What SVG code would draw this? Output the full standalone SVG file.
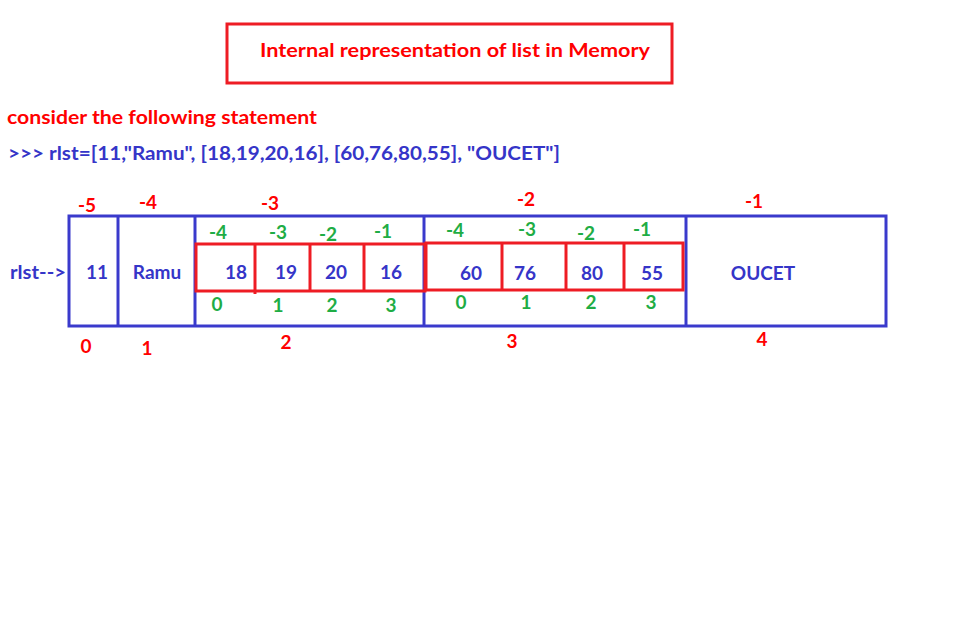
<svg xmlns="http://www.w3.org/2000/svg" width="957" height="620" viewBox="0 0 957 620">
<style>
text{font-family:Lato,"Open Sans","Liberation Sans",sans-serif;font-weight:bold;font-size:19px}
.r{fill:#ff0000}
.b{fill:#3535c8}
.g{fill:#1fad45}
.m{text-anchor:middle}
.ob{fill:#fff;stroke:#3a3acc;stroke-width:3}
.rb{fill:none;stroke:#ee1c24;stroke-width:3}
</style>
<rect width="957" height="620" fill="#fff"/>
<g id="title">
<rect x="227" y="24" width="445" height="59" fill="#fff" stroke="#ee1c24" stroke-width="3"/>
<text class="r" x="260" y="57" textLength="390" lengthAdjust="spacingAndGlyphs">Internal representation of list in Memory</text>
</g>
<g id="statement">
<text class="r" x="7" y="124" textLength="310" lengthAdjust="spacingAndGlyphs">consider the following statement</text>
<text class="b" x="8" y="160" textLength="552" lengthAdjust="spacingAndGlyphs">&gt;&gt;&gt; rlst=[11,"Ramu", [18,19,20,16], [60,76,80,55], "OUCET"]</text>
</g>
<g id="pointer"><text class="b" x="10" y="279" textLength="56" lengthAdjust="spacingAndGlyphs">rlst--&gt;</text></g>
<g id="list">
<rect class="ob" x="69" y="216" width="817" height="110"/>
<line x1="118" y1="216" x2="118" y2="326" stroke="#3a3acc" stroke-width="3"/>
<line x1="195" y1="216" x2="195" y2="326" stroke="#3a3acc" stroke-width="3"/>
<line x1="424" y1="216" x2="424" y2="326" stroke="#3a3acc" stroke-width="3"/>
<line x1="686" y1="216" x2="686" y2="326" stroke="#3a3acc" stroke-width="3"/>
</g>
<g id="item0"><text class="b m" x="97" y="279">11</text></g>
<g id="item1"><text class="b m" x="157" y="279">Ramu</text></g>
<g id="item2">
<rect class="rb" x="196" y="244" width="229" height="47"/>
<line x1="255" y1="244" x2="255" y2="294" stroke="#ee1c24" stroke-width="3"/>
<line x1="310" y1="244" x2="310" y2="291" stroke="#ee1c24" stroke-width="3"/>
<line x1="364" y1="244" x2="364" y2="291" stroke="#ee1c24" stroke-width="3"/>
<text class="b m" x="236" y="279">18</text>
<text class="b m" x="286" y="279">19</text>
<text class="b m" x="336" y="279">20</text>
<text class="b m" x="391" y="279">16</text>
</g>
<g id="item3">
<rect class="rb" x="426" y="243" width="257" height="47"/>
<line x1="502" y1="243" x2="502" y2="290" stroke="#ee1c24" stroke-width="3"/>
<line x1="566" y1="243" x2="566" y2="290" stroke="#ee1c24" stroke-width="3"/>
<line x1="624" y1="243" x2="624" y2="290" stroke="#ee1c24" stroke-width="3"/>
<text class="b m" x="471" y="280">60</text>
<text class="b m" x="525" y="280">76</text>
<text class="b m" x="592" y="280">80</text>
<text class="b m" x="652" y="280">55</text>
</g>
<g id="item4"><text class="b m" x="763" y="280">OUCET</text></g>
<g id="neg-indices">
<text class="r m" x="87" y="212">-5</text>
<text class="r m" x="148" y="209">-4</text>
<text class="r m" x="270" y="210">-3</text>
<text class="r m" x="526" y="206">-2</text>
<text class="r m" x="754" y="208">-1</text>
</g>
<g id="pos-indices">
<text class="r m" x="86" y="353">0</text>
<text class="r m" x="147" y="355">1</text>
<text class="r m" x="286" y="349">2</text>
<text class="r m" x="512" y="348">3</text>
<text class="r m" x="762" y="346">4</text>
</g>
<g id="inner-indices">
<text class="g m" x="218" y="239">-4</text>
<text class="g m" x="278" y="239">-3</text>
<text class="g m" x="328" y="241">-2</text>
<text class="g m" x="383" y="238">-1</text>
<text class="g m" x="217" y="311">0</text>
<text class="g m" x="278" y="312">1</text>
<text class="g m" x="332" y="312">2</text>
<text class="g m" x="391" y="312">3</text>
<text class="g m" x="455" y="237">-4</text>
<text class="g m" x="527" y="236">-3</text>
<text class="g m" x="586" y="240">-2</text>
<text class="g m" x="642" y="236">-1</text>
<text class="g m" x="461" y="309">0</text>
<text class="g m" x="526" y="309">1</text>
<text class="g m" x="591" y="309">2</text>
<text class="g m" x="651" y="309">3</text>
</g>
</svg>
